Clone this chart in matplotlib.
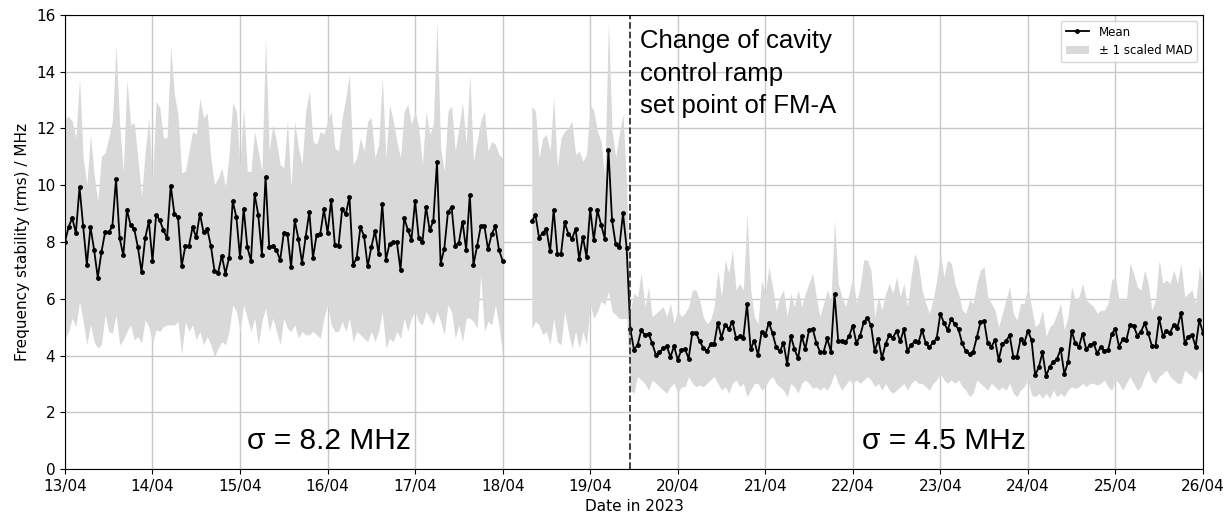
import numpy as np
import pandas as pd
import matplotlib
matplotlib.use('Agg')
import matplotlib.pyplot as plt
import matplotlib.dates as mdates

# hourly values, first block starts 13/04 00:00, second block 18/04 08:00
start_a = '2023-04-13 00:00'
start_b = '2023-04-18 08:00'
change_time = '2023-04-19 10:50'

mean_a = [8.0, 8.53, 8.84, 8.32, 9.93, 8.55, 7.2, 8.53, 7.72, 6.74, 7.64, 8.34, 8.34, 8.55, 10.22, 8.13,
          7.53, 9.12, 8.6, 8.45, 7.82, 6.95, 8.13, 8.73, 7.33, 8.96, 8.76, 8.42, 8.13, 9.99, 9.0, 8.87,
          7.15, 7.85, 7.86, 8.53, 8.16, 9.0, 8.34, 8.46, 7.87, 6.99, 6.92, 7.52, 6.89, 7.45, 9.44, 8.87,
          7.46, 9.18, 7.82, 7.34,
          9.68, 8.96, 7.55, 10.29, 7.84, 7.86, 7.71, 7.36, 8.31, 8.29, 7.11, 8.76, 8.12, 7.27, 8.18, 9.06,
          7.45, 8.25, 8.28, 9.15, 8.32, 9.48, 7.89, 7.86, 9.15, 8.98, 9.59, 7.18, 7.45, 8.52, 8.22, 7.14,
          7.82, 8.39, 7.58, 9.35, 7.38, 7.94, 7.99, 8.0, 7.02, 8.84, 8.44, 8.08, 9.45, 8.13, 7.99, 9.24,
          8.41, 8.75,
          10.81, 7.24, 7.76, 9.04, 9.24, 7.87, 7.98, 8.72, 7.72, 9.66, 7.19, 7.86, 8.55, 8.56, 7.74, 8.28,
          8.55, 7.72, 7.34]
upper_a = [12.38, 12.42, 12.26, 11.67, 13.79, 10.96, 10.02, 11.79, 10.38, 9.44, 11.02, 11.14, 11.67, 12.26,
           14.9, 12.14, 10.49, 13.73, 12.14, 12.2, 10.96, 9.61, 11.2, 12.38, 10.14, 12.96, 12.73, 11.67,
           11.67, 14.9, 13.2, 12.49, 10.44, 10.49, 11.2, 11.9, 11.79, 13.06, 12.38, 12.55, 10.96, 10.02,
           10.26, 10.61, 9.91, 11.08, 12.91, 12.61, 10.73, 12.73, 10.49, 10.49,
           11.9, 11.2, 10.49, 15.2, 11.2, 12.14, 11.55, 10.73, 10.61, 12.26, 9.91, 12.26, 11.32, 10.73,
           12.61, 13.32, 11.55, 11.44, 11.9, 11.79, 12.26, 12.61, 11.32, 11.2, 12.38, 13.08, 13.91, 10.73,
           10.96, 11.67, 11.2, 12.26, 12.38, 10.96, 11.44, 13.79, 10.96, 12.85, 12.26, 11.55, 10.96, 12.61,
           12.85, 12.14, 12.61, 12.02, 10.73, 12.61, 11.79, 12.14,
           15.79, 11.32, 10.49, 12.61, 12.79, 11.2, 12.02, 12.91, 11.44, 13.91, 10.85, 11.55, 12.26, 12.61,
           11.2, 11.55, 11.44, 11.08, 10.96]
lower_a = [4.55, 4.85, 5.32, 5.02, 5.91, 5.2, 4.38, 5.08, 4.49, 4.26, 4.38, 5.44, 4.85, 4.79, 5.44, 4.38,
           4.55, 4.85, 5.08, 4.55, 4.67, 4.44, 5.26, 5.02, 4.44, 4.91, 4.85, 5.02, 5.08, 5.08, 5.08, 5.2,
           4.02, 5.2, 4.85, 5.08, 4.55, 4.85, 4.38, 4.67, 4.38, 3.96, 4.26, 4.49, 4.38, 4.85, 5.79, 5.55,
           4.85, 5.79, 5.32, 4.85,
           5.32, 4.38, 5.2, 5.67, 4.85, 5.32, 4.85, 4.38, 5.32, 4.96, 4.85, 5.08, 4.61, 4.85, 4.73, 4.73,
           4.85, 4.73, 4.61, 5.32, 5.79, 5.08, 4.85, 4.85, 5.2, 4.85, 5.32, 4.49, 4.85, 4.73, 4.61, 4.49,
           4.85, 4.49, 4.85, 5.55, 4.26, 4.61, 4.49, 4.85, 4.61, 5.32, 4.85, 5.32, 5.55, 5.2, 5.08, 5.55,
           5.32, 5.08,
           5.55, 5.2, 4.73, 5.79, 5.55, 4.61, 5.08, 4.49, 5.32, 5.32, 5.2, 4.96, 6.85, 4.85, 5.2, 5.08,
           5.79, 5.08, 4.02]

mean_b = [8.73, 8.95, 8.14, 8.33, 8.45, 7.67, 9.14, 7.58, 7.58, 8.69, 8.29, 8.11, 8.46, 7.4, 8.19, 7.46,
          9.16, 8.07, 9.12, 8.61, 8.12, 11.25, 8.76, 7.92, 7.81, 9.01, 7.79,
          4.94, 4.21, 4.37, 4.89, 4.72, 4.77, 4.43, 4.03, 4.11, 4.25, 4.33, 3.95, 4.33, 3.85, 4.19, 4.23,
          3.89, 4.81, 4.81, 4.5, 4.28, 4.15, 4.4, 4.42, 5.15, 4.63, 5.09, 4.93, 5.19, 4.61, 4.69, 4.63,
          5.81, 4.23, 4.52, 4.02, 4.83, 4.71, 5.16, 4.78, 4.29, 4.15, 4.45, 3.7, 4.7, 4.23, 3.9, 4.69, 4.23,
          4.9, 4.94, 4.45, 4.13, 4.13, 4.6, 4.13, 6.17, 4.52, 4.52, 4.46, 4.69, 5.05, 4.43, 4.7, 5.17,
          5.33, 5.06, 4.15, 4.57, 3.9, 4.42, 4.71, 4.63, 4.87, 4.5, 4.92, 4.16, 4.37, 4.5, 4.46, 4.9,
          4.43, 4.29, 4.47, 4.6, 5.47, 5.15, 4.9, 5.29, 5.1, 4.92, 4.43, 4.15, 4.04, 4.13, 4.64, 5.17,
          5.22, 4.43,
          4.31, 4.55, 3.84, 4.41, 4.51, 4.71, 3.96, 3.96, 4.57, 4.43, 4.87, 4.55, 3.31, 3.59, 4.11, 3.28,
          3.61, 3.77, 3.88, 4.23, 3.35, 3.77, 4.87, 4.43, 4.31, 4.77, 4.22, 4.37, 4.43, 4.08, 4.31, 4.16,
          4.19, 4.77, 4.93, 4.31, 4.57, 4.55, 5.08, 5.05, 4.7, 4.84, 5.13, 4.78, 4.34, 4.32, 5.31, 4.7,
          4.85, 4.81, 5.09, 4.98, 5.51, 4.45, 4.66, 4.74, 4.31, 5.25, 4.81]
upper_b = [12.79, 12.61, 10.96, 11.67, 11.79, 11.2, 13.08, 10.61, 11.67, 11.9, 12.02, 12.26, 11.08, 11.2,
           10.85, 11.08, 12.85, 12.61, 11.9, 11.55, 10.26, 15.79, 11.9, 11.0, 11.8, 12.5, 10.0,
           5.6, 6.19, 6.07, 6.9, 5.72, 6.42, 5.37, 5.49, 5.6, 5.72, 5.37, 5.84, 5.13, 5.6, 5.37, 5.49,
           5.72, 6.31, 6.31, 5.96, 5.37, 5.13, 5.25, 5.72, 7.01, 6.07, 7.37, 6.9, 7.72, 6.31, 6.54, 6.31,
           9.01, 6.31, 5.37, 5.13, 6.66, 6.19, 7.13, 6.42, 5.6, 6.07, 6.31, 5.37, 6.19, 5.72, 6.31, 5.72,
           6.19,
           6.54, 6.9, 6.07, 5.37, 5.84, 6.31, 5.96, 8.78, 6.54, 6.07, 5.72, 6.19, 6.78, 5.84, 6.42, 7.37,
           7.37, 7.01, 5.37, 6.07, 5.6, 6.19, 6.54, 6.19, 6.78, 6.07, 6.54, 5.72, 6.78, 7.6, 7.25, 6.31,
           5.84, 5.49, 5.96, 6.66, 7.6, 6.78, 7.37, 7.25, 6.54, 6.19, 5.6, 5.49, 5.96, 5.84, 6.54, 7.01,
           7.13, 6.07,
           5.84, 5.6, 5.01, 5.49, 5.96, 6.42, 5.49, 5.25, 5.84, 5.84, 6.42, 5.72, 5.01, 5.13, 5.6, 4.66,
           5.01, 5.13, 5.49, 5.84, 4.9, 5.37, 6.42, 5.96, 6.07, 6.54, 5.96, 5.84, 5.72, 5.49, 5.6, 5.6,
           5.84, 6.66, 6.78, 5.96, 5.96, 5.96, 7.25, 6.9, 6.42, 6.31, 7.01, 6.54, 5.6, 5.96, 7.37, 6.54,
           6.66, 6.54, 7.01, 6.54, 7.25, 6.07, 6.19, 6.31, 5.84, 7.13, 6.54]
lower_b = [4.96, 5.2, 5.08, 4.73, 4.85, 4.38, 5.32, 4.49, 4.38, 5.55, 4.85, 4.26, 4.85, 4.26, 4.85, 4.38,
           5.79, 5.32, 5.55, 5.91, 5.79, 6.26, 5.55, 5.44, 5.3, 5.3, 5.3,
           2.78, 2.67, 3.26, 3.14, 3.02, 2.78, 3.14, 3.02, 2.9, 2.78, 2.67, 2.9, 3.02, 2.67, 2.9, 2.9,
           3.26, 3.02, 2.9, 2.96, 2.9, 3.02, 3.14, 3.26, 3.02, 2.78, 2.9, 2.67, 3.02, 3.14, 2.9, 3.02,
           2.55, 2.78, 3.02, 3.02, 2.78, 2.9, 3.14, 3.26, 3.02, 2.9, 2.78, 2.55, 3.02, 2.9, 2.67, 3.02,
           3.14,
           3.02, 2.84, 2.9, 2.78, 2.9, 2.78, 3.02, 3.37, 3.02, 2.78, 2.96, 3.14, 3.02, 3.14, 3.02, 3.14,
           3.26, 3.14, 2.9, 3.02, 2.78, 3.02, 2.78, 2.67, 2.78, 2.9, 3.02, 2.78, 3.02, 3.14, 3.02, 3.02,
           2.9, 2.78, 3.02, 3.14, 3.37, 3.14, 3.02, 3.14, 3.02, 3.14, 2.9, 2.78, 2.55, 2.67, 3.14, 3.02,
           2.9, 2.78,
           3.02, 2.9, 2.78, 2.9, 2.78, 3.02, 2.67, 2.55, 2.78, 2.9, 3.14, 2.61, 2.55, 2.67, 2.49, 2.67,
           2.49, 2.78, 2.55, 2.67, 2.55, 2.78, 2.9, 2.84, 2.9, 3.02, 2.9, 3.02, 3.02, 2.96, 3.02, 3.14,
           2.9, 2.78, 3.14, 3.02, 2.78, 3.02, 3.26, 3.02, 2.78, 2.9, 3.26, 3.49, 3.14, 3.02, 3.26, 3.37,
           3.49, 3.26, 3.14, 3.02, 3.02, 3.49, 3.37, 3.26, 3.14, 3.49, 3.37]

sigma_labels = ['σ = 8.2 MHz', 'σ = 4.5 MHz']
sigma_pos = ['2023-04-15 02:00', '2023-04-22 02:30']
change_text = 'Change of cavity\ncontrol ramp\nset point of FM-A'


def main():
    t_a = pd.date_range(start_a, periods=len(mean_a), freq='h')
    t_b = pd.date_range(start_b, periods=len(mean_b), freq='h')

    fig = plt.figure(figsize=(12.3, 5.16), dpi=100)
    ax = fig.add_axes([0.0528, 0.091, 0.9252, 0.880])

    band_color = '#d9d9d9'
    ax.fill_between(t_a, lower_a, upper_a, color=band_color, linewidth=0,
                    label='± 1 scaled MAD')
    ax.fill_between(t_b, lower_b, upper_b, color=band_color, linewidth=0)
    ax.plot(t_a, mean_a, color='black', marker='.', markersize=5, linewidth=1.3,
            label='Mean')
    ax.plot(t_b, mean_b, color='black', marker='.', markersize=5, linewidth=1.3)

    ax.axvline(pd.Timestamp(change_time), color='#333333', linestyle='--',
               linewidth=1.3)

    ann_font = 'Liberation Sans'
    ax.text(pd.Timestamp('2023-04-19 13:40'), 15.5, change_text, fontsize=18.5,
            va='top', ha='left', linespacing=1.45, family=ann_font)
    for lab, pos in zip(sigma_labels, sigma_pos):
        ax.text(pd.Timestamp(pos), 1.0, lab, fontsize=21.5, va='center', ha='left',
                family=ann_font)

    ax.set_xlim(pd.Timestamp('2023-04-13'), pd.Timestamp('2023-04-26'))
    ax.set_ylim(0, 16)
    ax.xaxis.set_major_locator(mdates.DayLocator())
    ax.xaxis.set_major_formatter(mdates.DateFormatter('%d/%m'))
    ax.set_yticks(np.arange(0, 17, 2))
    ax.tick_params(labelsize=11)
    ax.grid(True, color='#c8c8c8', linewidth=1)
    ax.set_axisbelow(True)

    ax.set_xlabel('Date in 2023', fontsize=11, labelpad=4)
    ax.set_ylabel('Frequency stability (rms) / MHz', fontsize=11)

    handles, labels = ax.get_legend_handles_labels()
    order = [labels.index('Mean'), labels.index('± 1 scaled MAD')]
    ax.legend([handles[i] for i in order], [labels[i] for i in order],
              loc='upper right', fontsize=8.5)

    fig.savefig('out.png', dpi=100)


if __name__ == '__main__':
    main()
